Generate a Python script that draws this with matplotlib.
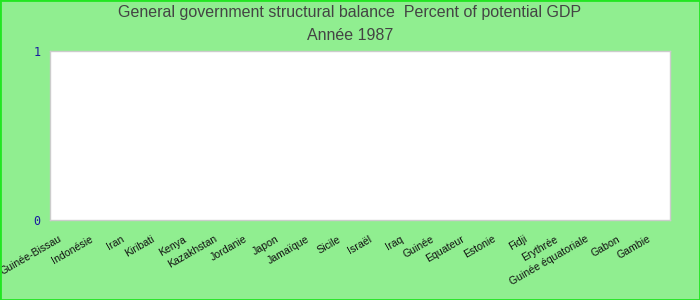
import numpy as np
from matplotlib import pyplot as plt
from matplotlib import transforms

plt.rcParams['font.family'] = ['Liberation Sans', 'DejaVu Sans']

# Chart data (no values shown for 1987)
countries = ['Guinée-Bissau', 'Indonésie', 'Iran', 'Kiribati', 'Kenya',
             'Kazakhstan', 'Jordanie', 'Japon', 'Jamaïque', 'Sicile',
             'Israël', 'Iraq', 'Guinée', 'Equateur', 'Estonie', 'Fidji',
             'Erythrée', 'Guinée équatoriale', 'Gabon', 'Gambie']
values = [np.nan, np.nan, np.nan, np.nan, np.nan, np.nan, np.nan, np.nan, np.nan, np.nan,
          np.nan, np.nan, np.nan, np.nan, np.nan, np.nan, np.nan, np.nan, np.nan, np.nan]
y_ticks = [0, 1]

title = 'General government structural balance  Percent of potential GDP'
subtitle = 'Année 1987'

bg = '#90ee90'

fig = plt.figure(figsize=(7, 3), dpi=100, facecolor=bg)
ax = fig.add_axes([50 / 700, 1 - 220 / 300, 620 / 700, 169 / 300])
ax.set_facecolor('white')

x = np.arange(len(countries))
ax.bar(x, values, width=0.6, color='#4572a7', linewidth=0)

ax.set_xlim(-0.5, len(countries) - 0.5)
ax.set_ylim(0, 1)

# category labels: drawn as texts so they can sit a little left of each slot
ax.set_xticks(x)
ax.set_xticklabels([])
base = transforms.blended_transform_factory(ax.transData, ax.transAxes)
shift = transforms.ScaledTranslation(-7 / 100, -14 / 100, fig.dpi_scale_trans)
for xi, name in zip(x, countries):
    ax.text(xi, 0, name, transform=base + shift, rotation=30, ha='right', va='top',
            rotation_mode='anchor', fontsize=7.6, color='#111111', clip_on=False)

ax.set_yticks(y_ticks)
ax.set_yticklabels([str(v) for v in y_ticks], family='DejaVu Sans Mono',
                   fontsize=8.5, color='#1a1aa0')
ax.tick_params(axis='both', length=0)
ax.tick_params(axis='y', pad=7)

for s in ax.spines.values():
    s.set_color('#cccccc')
    s.set_linewidth(1)

fig.text(0.5, 1 - 13 / 300, title, ha='center', va='center', fontsize=11.5, color='#444444')
fig.text(0.5, 1 - 35 / 300, subtitle, ha='center', va='center', fontsize=11.5, color='#444444')

# green frame around the whole picture
frame = plt.Rectangle((0, 0), 1, 1, transform=fig.transFigure, fill=False,
                      edgecolor='#22e622', linewidth=2)
fig.patches.append(frame)

plt.savefig('out.png', facecolor=bg)
